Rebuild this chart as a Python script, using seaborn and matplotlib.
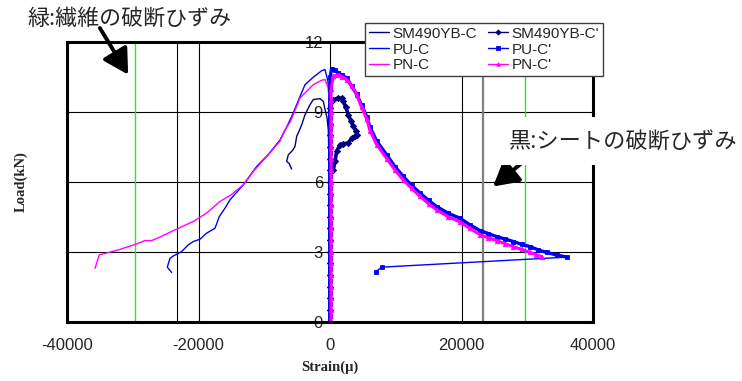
import numpy as np
import matplotlib
matplotlib.use("Agg")
import matplotlib.pyplot as plt
import seaborn as sns

# ── values (strain in μ, load in kN) ─────────────────────────────────────

X_TICKS = [-40000, -20000, 0, 20000, 40000]
Y_TICKS = [0, 3, 6, 9, 12]

FIBER_BREAK = [-29600, 29600]      # green lines
SHEET_BREAK = [-23300, 23300]      # black / gray lines

# loading branch that runs up the zero-strain line (shared by the C' gauges)
RISE_LOAD = [0.0, 0.5, 1.0, 1.5, 2.0, 2.5, 3.0, 3.5, 4.0, 4.5,
             5.0, 5.5, 6.0, 6.5, 7.0, 7.5, 8.0, 8.5, 9.0]

SM_C_strain = [0, -60, -120, -250, -450, -760, -1010, -1520, -2540, -3040,
               -3800, -4300, -4820, -5070, -5320, -5700, -6340, -6590, -6200, -5830]
SM_C_load = [0, 3.0, 6.0, 8.2, 8.75, 9.10, 9.45, 9.57, 9.53, 9.31,
             8.88, 8.45, 8.10, 7.95, 7.52, 7.35, 7.16, 6.88, 6.78, 6.55]

PU_C_strain = [0, -80, -150, -300, -760, -1260, -2540, -3800, -4800, -5580,
               -6500, -7600, -9300, -11150, -13190, -15210, -15970, -16840, -17490, -18760,
               -19770, -20790, -21550, -22560, -23830, -24340, -24740, -24090]
PU_C_load = [0, 5.0, 9.6, 10.3, 10.82, 10.77, 10.49, 10.17, 9.5, 8.96,
             8.4, 7.8, 7.2, 6.66, 5.87, 5.23, 4.87, 4.51, 4.01, 3.80,
             3.54, 3.44, 3.30, 3.01, 2.82, 2.72, 2.34, 2.11]

PN_C_strain = [0, -80, -150, -250, -760, -1260, -2540, -3500, -4560, -5070,
               -6000, -7100, -7600, -9630, -11500, -13190, -15000, -16730, -18760, -20790,
               -23580, -25860, -27120, -28140, -29400, -32200, -34480, -35090, -35740]
PN_C_load = [0, 5.0, 9.5, 10.03, 10.39, 10.36, 10.17, 9.9, 9.6, 9.24,
             8.6, 8.1, 7.75, 7.09, 6.5, 5.87, 5.45, 5.16, 4.66, 4.30,
             3.94, 3.63, 3.48, 3.48, 3.34, 3.08, 2.91, 2.87, 2.29]

SM_Cp_strain = [0, 500, 1260, 1760, 2030, 2400, 2790, 3170, 3550, 3900,
                4160, 3800, 3300, 2790, 2000, 1520, 1010, 760, 500, 250]
SM_Cp_load = [9.17, 9.53, 9.60, 9.58, 9.45, 9.20, 8.88, 8.62, 8.38, 8.20,
              8.02, 7.95, 7.88, 7.67, 7.62, 7.59, 7.31, 6.88, 6.52, 6.50]

PU_Cp_strain = [0, 20, 40, 250, 700, 1260, 1900, 2540, 3300, 4060,
                4800, 5580, 6080, 7100, 8620, 9900, 11150, 12400, 13690, 15000,
                16220, 18000, 19770, 21300, 22820, 24100, 25350, 26600, 27880, 29150,
                30420, 31700, 32950, 34500, 35990]
PU_Cp_load = [9.5, 10.0, 10.5, 10.86, 10.80, 10.67, 10.57, 10.46, 10.1, 9.75,
              9.3, 8.8, 8.35, 7.75, 7.16, 6.65, 6.23, 5.85, 5.52, 5.2,
              4.94, 4.65, 4.44, 4.15, 3.91, 3.78, 3.65, 3.55, 3.44, 3.32,
              3.22, 3.08, 2.97, 2.86, 2.77]
# after the last point the gauge jumps back (thin connector)
PU_Cp_tail_strain = [35990, 7860, 7000]
PU_Cp_tail_load = [2.77, 2.34, 2.15]

PN_Cp_strain = [150, 170, 500, 1260, 1900, 2540, 3300, 4060, 4800, 5580,
                6080, 7100, 8620, 9900, 11150, 12400, 13690, 15000, 16220, 18000,
                19770, 21300, 22820, 24100, 25350, 26600, 27880, 29150, 30420, 31300, 32200]
PN_Cp_load = [9.5, 10.0, 10.53, 10.60, 10.5, 10.39, 10.1, 9.74, 9.2, 8.7,
              8.2, 7.6, 7.0, 6.5, 6.08, 5.72, 5.38, 5.06, 4.8, 4.5,
              4.28, 4.0, 3.73, 3.6, 3.48, 3.35, 3.22, 3.1, 2.98, 2.88, 2.79]

SERIES_ORDER = ["SM490YB-C", "PU-C", "PN-C", "SM490YB-C'", "PU-C'", "PN-C'"]

# ── style ────────────────────────────────────────────────────────────────

sns.set_style("white")
plt.rcParams["font.family"] = ["Liberation Sans", "Noto Sans CJK JP"]
plt.rcParams["axes.unicode_minus"] = False

NAVY, BLUE, MAGENTA = "#000080", "#0000ff", "#ff00ff"

W, H = 742, 381
fig = plt.figure(figsize=(W / 100, H / 100), dpi=100)
ax = fig.add_axes([67 / W, 1 - 321.7 / H, 526 / W, 279.7 / H])

# reference lines
for x in FIBER_BREAK:
    ax.axvline(x, color="#22ee22", lw=1.0, zorder=1)
ax.axvline(SHEET_BREAK[0], color="black", lw=0.8, zorder=1)
ax.axvline(SHEET_BREAK[1], color="#808080", lw=1.6, zorder=1)

# thin gauges (C)
common = dict(sort=False, estimator=None, ax=ax)
sns.lineplot(x=SM_C_strain, y=SM_C_load, color=NAVY, lw=1.0, label="SM490YB-C", **common)
sns.lineplot(x=PU_C_strain, y=PU_C_load, color=BLUE, lw=1.0, label="PU-C", **common)
sns.lineplot(x=PN_C_strain, y=PN_C_load, color=MAGENTA, lw=1.0, label="PN-C", **common)

# marked gauges (C'), each rising along the zero-strain line first
sm_x = [0] * len(RISE_LOAD) + SM_Cp_strain
sm_y = RISE_LOAD + SM_Cp_load
pu_x = [0] * len(RISE_LOAD) + PU_Cp_strain
pu_y = [v + 0.25 for v in RISE_LOAD] + PU_Cp_load
pn_x = [150] * len(RISE_LOAD) + PN_Cp_strain
pn_y = RISE_LOAD + PN_Cp_load

mk = dict(markersize=3.2, markeredgewidth=0.6)
sns.lineplot(x=sm_x, y=sm_y, color=NAVY, lw=2.6, marker="D", markeredgecolor=NAVY,
             label="SM490YB-C'", **mk, **common)
sns.lineplot(x=PU_Cp_tail_strain, y=PU_Cp_tail_load, color=BLUE, lw=1.0, marker="s",
             markeredgecolor=BLUE, markevery=[1, 2], **mk, **common)
sns.lineplot(x=pu_x, y=pu_y, color=BLUE, lw=2.4, marker="s", markeredgecolor=BLUE,
             label="PU-C'", **mk, **common)
sns.lineplot(x=pn_x, y=pn_y, color=MAGENTA, lw=2.2, marker="^", markeredgecolor=MAGENTA,
             label="PN-C'", **mk, **common)

ax.set_xlim(X_TICKS[0], X_TICKS[-1])
ax.set_ylim(Y_TICKS[0], Y_TICKS[-1])
ax.set_xticks(X_TICKS)
ax.set_yticks(Y_TICKS)
ax.set_yticklabels([])
ax.grid(True, color="black", lw=0.8)
ax.tick_params(axis="both", length=0)
ax.tick_params(axis="x", labelsize=12, pad=12)
for s in ax.spines.values():
    s.set_color("black")
    s.set_linewidth(2.2)

# y tick labels sit on the zero-strain line
sec = ax.secondary_yaxis(0.5)
sec.set_alignment("left")
sec.set_yticks(Y_TICKS)
sec.tick_params(length=0, pad=5, labelsize=12)
for s in sec.spines.values():
    s.set_visible(False)

lab = dict(fontfamily="Liberation Serif", fontweight="bold", fontsize=10.5)
ax.set_xlabel("Strain(μ)", **lab)
ax.set_ylabel("Load(kN)", **lab)
ax.xaxis.set_label_coords(0.5, -0.14)
ax.yaxis.set_label_coords(-0.075, 0.5)

# legend (two columns, C | C')
handles, labels = ax.get_legend_handles_labels()
hmap = dict(zip(labels, handles))
leg = ax.legend([hmap[k] for k in SERIES_ORDER], SERIES_ORDER, ncol=2,
                loc="upper left", bbox_to_anchor=(365 / W, 1 - 23 / H),
                bbox_transform=fig.transFigure, frameon=True, fancybox=False,
                edgecolor="#404040", framealpha=1, fontsize=11,
                handlelength=1.3, handletextpad=0.25, columnspacing=0.7,
                labelspacing=0.12, borderpad=0.25, borderaxespad=0)
leg.get_frame().set_linewidth(1.0)
for ln in leg.get_lines():
    ln.set_linewidth(1.0)
    ln.set_markersize(2.6)

# annotations
arrow = dict(arrowstyle="-|>,head_length=0.8,head_width=0.45", lw=2.8,
             color="black", mutation_scale=19, shrinkA=0, shrinkB=0)
ax.annotate("", xy=(-30700, 10.6), xytext=(-35000, 12.6), arrowprops=arrow,
            annotation_clip=False)
ax.annotate("", xy=(24800, 5.8), xytext=(29350, 6.85), arrowprops=arrow,
            annotation_clip=False, zorder=6)

jp = ["Noto Sans CJK JP"]
fig.text(27 / W, 1 - 18.5 / H, "緑:繊維の破断ひずみ", family=jp, fontsize=15.8,
         va="center", ha="left")
fig.text(509 / W, 1 - 141 / H, "黒:シートの破断ひずみ", family=jp, fontsize=16,
         va="center", ha="left",
         bbox=dict(boxstyle="square,pad=0.55", fc="white", ec="none"))

fig.savefig("out.png", dpi=100)
